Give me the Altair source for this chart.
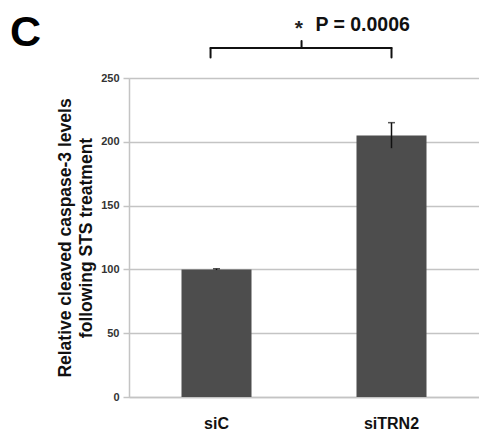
import altair as alt
import pandas as pd

# ---- data ----
groups = ["siC", "siTRN2"]
values = [100, 205]
errors = [0.5, 10]
y_ticks = [0, 50, 100, 150, 200, 250]
y_title = ["Relative cleaved caspase-3 levels", "following STS treatment"]

# significance annotation (data units on the y scale)
bracket_foot = 266
bracket_bar = 273.5
bracket_tip = 279
star_y = 284
p_y = 287
p_text = "P = 0.0006"

FONT = "Liberation Sans"

df = pd.DataFrame({"group": groups, "value": values, "err": errors})
df["lo"] = df["value"] - df["err"]
df["hi"] = df["value"] + df["err"]

xscale = alt.Scale(domain=groups, paddingInner=0, paddingOuter=0)
yscale = alt.Scale(domain=[0, 250], nice=False)

base = alt.Chart(df)

bars = base.mark_bar(size=70, color="#4d4d4d").encode(
    x=alt.X("group:N", sort=groups, scale=xscale,
            axis=alt.Axis(title=None, labelAngle=0, labelFont=FONT, labelFontSize=16,
                          labelFontWeight="bold", labelColor="#111111", labelPadding=18,
                          ticks=False, domainColor="#c4c4c4", domainWidth=1.5)),
    y=alt.Y("value:Q", scale=yscale,
            axis=alt.Axis(values=y_ticks, title=y_title, titleFont=FONT, titleFontSize=17.5,
                          titleFontWeight="bold", titleColor="#111111", titleLineHeight=21,
                          titlePadding=5,
                          labelFont=FONT, labelFontSize=11, labelFontWeight="bold",
                          labelColor="#333333", labelPadding=4, tickSize=6,
                          tickColor="#c4c4c4", tickWidth=1.5,
                          gridColor="#c4c4c4", gridWidth=1.5,
                          domainColor="#c4c4c4", domainWidth=1.5)),
)

err_rule = base.mark_rule(color="#111111", strokeWidth=1.5).encode(
    x=alt.X("group:N", sort=groups, scale=xscale),
    y=alt.Y("lo:Q", scale=yscale),
    y2="hi:Q",
)
err_cap = base.mark_tick(color="#111111", thickness=1.5, size=7, orient="horizontal").encode(
    x=alt.X("group:N", sort=groups, scale=xscale),
    y=alt.Y("hi:Q", scale=yscale),
)

ann = pd.DataFrame({"a": ["siC"], "b": ["siTRN2"], "foot": [bracket_foot],
                    "bar": [bracket_bar], "tip": [bracket_tip],
                    "sy": [star_y], "py": [p_y], "p": [p_text], "star": ["*"]})
abase = alt.Chart(ann)
line_style = dict(color="#111111", strokeWidth=2, strokeCap="round")

left_foot = abase.mark_rule(**line_style).encode(
    x=alt.X("a:N", scale=xscale, bandPosition=0.466),
    y=alt.Y("foot:Q", scale=yscale), y2="bar:Q")
right_foot = abase.mark_rule(**line_style).encode(
    x=alt.X("b:N", scale=xscale, bandPosition=0.5),
    y=alt.Y("foot:Q", scale=yscale), y2="bar:Q")
h_bar = abase.mark_rule(**line_style).encode(
    x=alt.X("a:N", scale=xscale, bandPosition=0.466),
    x2=alt.X2("b:N", bandPosition=0.5),
    y=alt.Y("bar:Q", scale=yscale))
mid_tip = abase.mark_rule(**line_style).encode(
    x=alt.X("a:N", scale=xscale, bandPosition=0.986),
    y=alt.Y("bar:Q", scale=yscale), y2="tip:Q")
star = abase.mark_text(font=FONT, fontSize=21, fontWeight="bold", color="#222222",
                       align="center", baseline="alphabetic").encode(
    x=alt.X("a:N", scale=xscale, bandPosition=0.971),
    y=alt.Y("sy:Q", scale=yscale), text="star:N")
ptext = abase.mark_text(font=FONT, fontSize=19.5, fontWeight="bold", color="#111111",
                        align="left", baseline="alphabetic").encode(
    x=alt.X("b:N", scale=xscale, bandPosition=0.065),
    y=alt.Y("py:Q", scale=yscale), text="p:N")

chart = alt.layer(bars, err_rule, err_cap, left_foot, right_foot, h_bar, mid_tip,
                  star, ptext).properties(
    width=350, height=319,
    title=alt.TitleParams("C", anchor="start", frame="group", font=FONT, fontSize=43,
                          fontWeight="bold", color="#000000", dx=-119, dy=44),
    autosize=alt.AutoSizeParams(type="none"),
    padding={"left": 129, "top": 78, "right": 0, "bottom": 38},
).configure_view(stroke=None).configure(background="white")

chart.save("out.html", embed_options={"renderer": "svg", "actions": False})
